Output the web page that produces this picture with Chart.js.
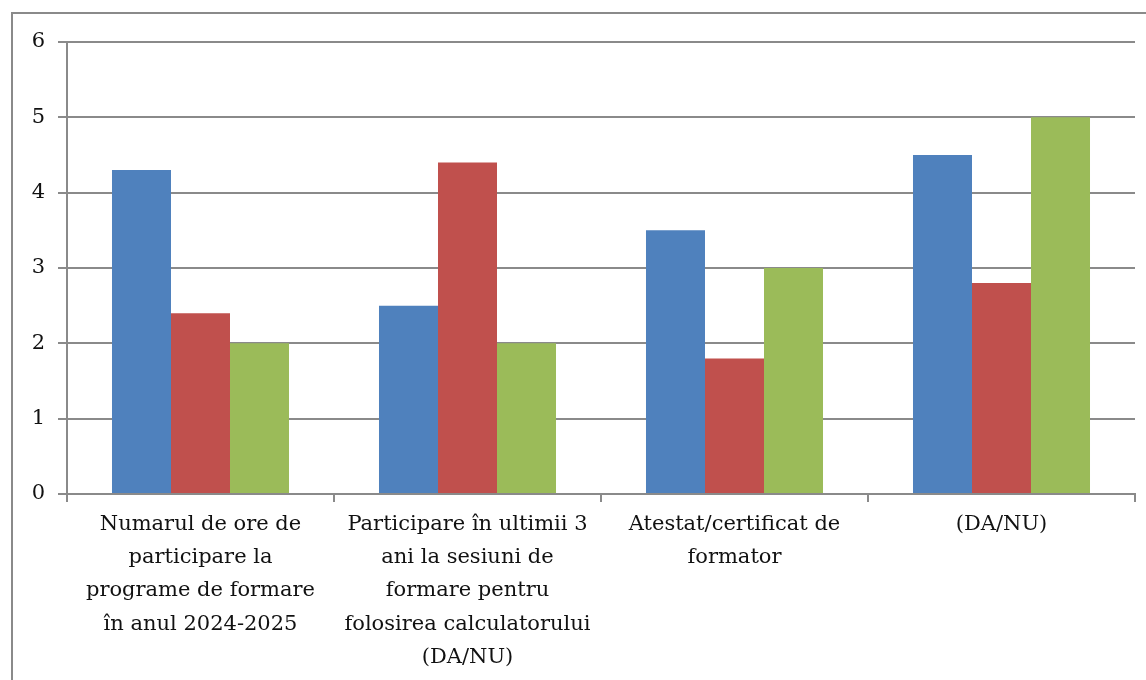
<!DOCTYPE html>
<html>
<head>
<meta charset="utf-8">
<script src="https://cdn.jsdelivr.net/npm/chart.js@4"></script>
<style>
    html, body { margin: 0; padding: 0; background: #fff; }
    #wrap { position: relative; width: 1146px; height: 680px; overflow: hidden; }
    #frame {
        position: absolute; left: 11px; top: 12px; width: 1200px; height: 700px;
        border: 2px solid #8a8a8a; box-sizing: border-box;
    }
    canvas { position: absolute; left: 0; top: 0; }
</style>
</head>
<body>
<div id="wrap">
    <div id="frame"></div>
    <canvas id="barChart" width="1146" height="680"></canvas>
</div>
<script>
const categories = [
    ['Numarul de ore de', 'participare la', 'programe de formare', 'în anul 2024-2025'],
    ['Participare în ultimii 3', 'ani la sesiuni de', 'formare pentru', 'folosirea calculatorului', '(DA/NU)'],
    ['Atestat/certificat de', 'formator'],
    ['(DA/NU)']
];
const seriesBlue = [4.3, 2.5, 3.5, 4.5];
const seriesRed = [2.4, 4.4, 1.8, 2.8];
const seriesGreen = [2.0, 2.0, 3.0, 5.0];
const yTicks = [0, 1, 2, 3, 4, 5, 6];

const colors = {
    blue: '#4F81BD',
    red: '#C0504D',
    green: '#9BBB59'
};
const gridColor = '#8a8a8a';
const labelFont = { family: '"DejaVu Serif", serif', size: 21, lineHeight: 1.58 };

const ctx = document.getElementById('barChart').getContext('2d');

new Chart(ctx, {
    type: 'bar',
    data: {
        labels: categories,
        datasets: [
            { data: seriesBlue, backgroundColor: colors.blue },
            { data: seriesRed, backgroundColor: colors.red },
            { data: seriesGreen, backgroundColor: colors.green }
        ]
    },
    options: {
        responsive: false,
        animation: false,
        categoryPercentage: 0.663,
        barPercentage: 1,
        layout: { padding: { top: 42, right: 11, left: 0, bottom: 0 } },
        plugins: {
            legend: { display: false },
            tooltip: { enabled: false }
        },
        scales: {
            x: {
                grid: {
                    offset: true,
                    drawOnChartArea: false,
                    color: gridColor,
                    lineWidth: 2,
                    tickLength: 8
                },
                border: { color: gridColor, width: 2 },
                ticks: {
                    color: '#111',
                    font: labelFont,
                    padding: 6,
                    maxRotation: 0,
                    autoSkip: false
                },
                afterFit: (scale) => { scale.height = 186; }
            },
            y: {
                min: 0,
                max: 6,
                afterBuildTicks: (scale) => { scale.ticks = yTicks.map(v => ({ value: v })); },
                grid: {
                    color: gridColor,
                    lineWidth: 2,
                    tickLength: 9
                },
                border: { color: gridColor, width: 2 },
                ticks: {
                    color: '#111',
                    font: { family: labelFont.family, size: 21 },
                    padding: 13
                },
                afterFit: (scale) => { scale.width = 67; }
            }
        }
    }
});
</script>
</body>
</html>
